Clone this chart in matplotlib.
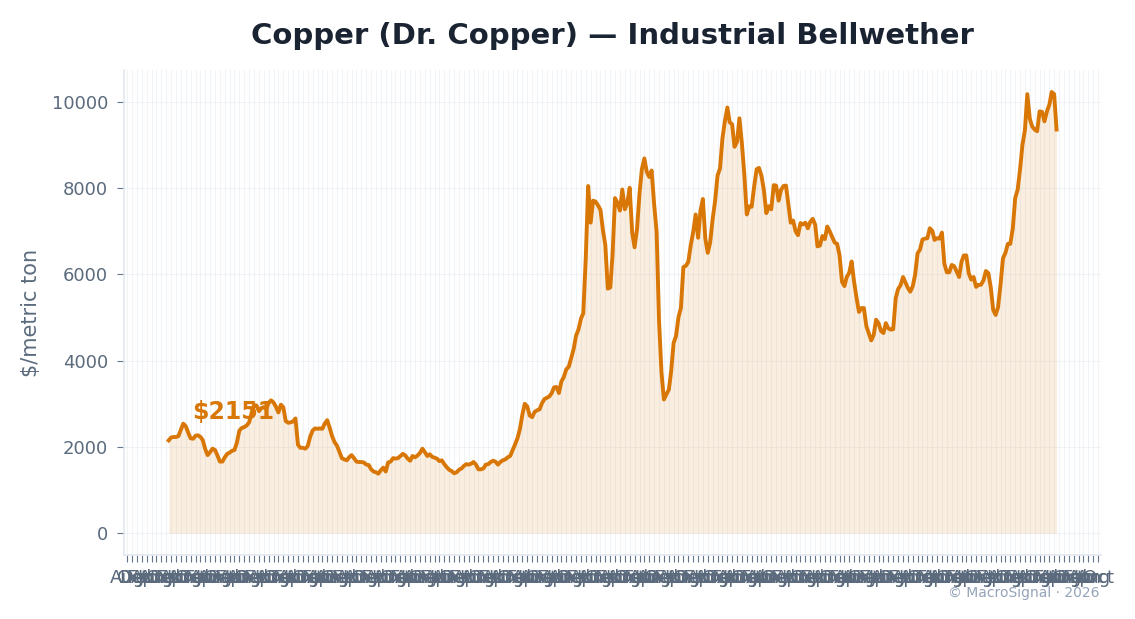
import matplotlib
matplotlib.use("Agg")
import matplotlib.pyplot as plt
import matplotlib.dates as mdates
import numpy as np
import pandas as pd

# Monthly copper price, $/metric ton (Jan 1992 - May 2022)
start_month = "1992-01-01"
p1992 = [2151, 2220, 2230, 2230, 2250, 2400, 2540, 2480, 2330, 2200, 2190, 2260]
p1993 = [2270, 2230, 2160, 1950, 1810, 1880, 1960, 1930, 1800, 1660, 1660, 1760]
p1994 = [1840, 1870, 1910, 1930, 2100, 2380, 2440, 2460, 2500, 2570, 2790, 2970]
p1995 = [2960, 2830, 2900, 2920, 2880, 3020, 3080, 3030, 2930, 2800, 2980, 2920]
p1996 = [2600, 2560, 2570, 2590, 2660, 2050, 1980, 1980, 1960, 2020, 2240, 2380]
p1997 = [2430, 2420, 2430, 2420, 2540, 2620, 2450, 2250, 2110, 2030, 1880, 1740]
p1998 = [1710, 1690, 1760, 1810, 1740, 1660, 1650, 1650, 1640, 1590, 1580, 1480]
p1999 = [1430, 1410, 1380, 1460, 1520, 1430, 1640, 1660, 1740, 1730, 1740, 1790]
p2000 = [1840, 1800, 1730, 1680, 1790, 1760, 1800, 1860, 1960, 1880, 1790, 1830]
p2001 = [1770, 1750, 1730, 1670, 1690, 1600, 1530, 1470, 1440, 1390, 1410, 1470]
p2002 = [1500, 1560, 1600, 1590, 1610, 1650, 1590, 1480, 1480, 1500, 1590, 1600]
p2003 = [1650, 1680, 1660, 1590, 1650, 1690, 1710, 1760, 1790, 1920, 2060, 2200]
p2004 = [2420, 2760, 3000, 2940, 2730, 2690, 2810, 2850, 2870, 3010, 3110, 3140]
p2005 = [3170, 3250, 3380, 3390, 3250, 3520, 3620, 3800, 3860, 4060, 4270, 4580]
p2006 = [4730, 4980, 5100, 6380, 8050, 7200, 7710, 7690, 7600, 7500, 7030, 6680]
p2007 = [5670, 5700, 6450, 7770, 7660, 7480, 7970, 7510, 7650, 8010, 6970, 6630]
p2008 = [7060, 7890, 8440, 8690, 8380, 8260, 8410, 7630, 6990, 4930, 3720, 3100]
p2009 = [3220, 3330, 3750, 4410, 4570, 5010, 5220, 6170, 6200, 6290, 6680, 6980]
p2010 = [7390, 6850, 7460, 7750, 6840, 6500, 6740, 7280, 7710, 8290, 8460, 9150]
p2011 = [9560, 9870, 9530, 9480, 8960, 9070, 9620, 9040, 8300, 7390, 7580, 7570]
p2012 = [8040, 8440, 8470, 8290, 7960, 7420, 7580, 7510, 8070, 8060, 7710, 7960]
p2013 = [8050, 8060, 7650, 7200, 7250, 7000, 6910, 7190, 7160, 7200, 7070, 7220]
p2014 = [7290, 7150, 6650, 6670, 6890, 6820, 7110, 7000, 6870, 6740, 6710, 6450]
p2015 = [5830, 5730, 5940, 6040, 6300, 5830, 5460, 5130, 5220, 5220, 4800, 4640]
p2016 = [4470, 4600, 4950, 4870, 4690, 4640, 4870, 4750, 4720, 4730, 5450, 5660]
p2017 = [5750, 5940, 5820, 5690, 5600, 5720, 5990, 6490, 6580, 6810, 6830, 6840]
p2018 = [7070, 7010, 6800, 6840, 6830, 6970, 6250, 6050, 6050, 6220, 6190, 6070]
p2019 = [5940, 6300, 6440, 6440, 6030, 5880, 5940, 5710, 5760, 5760, 5860, 6080]
p2020 = [6030, 5690, 5180, 5060, 5240, 5760, 6370, 6500, 6710, 6710, 7070, 7770]
p2021 = [7970, 8460, 9000, 9340, 10180, 9610, 9430, 9360, 9320, 9780, 9770, 9550]
p2022 = [9780, 9940, 10230, 10180, 9360]

prices = np.array(p1992 + p1993 + p1994 + p1995 + p1996 + p1997 + p1998 + p1999 +
                  p2000 + p2001 + p2002 + p2003 + p2004 + p2005 + p2006 + p2007 +
                  p2008 + p2009 + p2010 + p2011 + p2012 + p2013 + p2014 + p2015 +
                  p2016 + p2017 + p2018 + p2019 + p2020 + p2021 + p2022, dtype=float)
dates = pd.date_range(start_month, periods=len(prices), freq="MS")

title = "Copper (Dr. Copper) \u2014 Industrial Bellwether"
ylabel = "$/metric ton"
watermark = "\u00a9 MacroSignal \u00b7 2026"

LINE = "#d97706"
TEXT = "#5b6b7d"
TITLE = "#1a2332"

fig = plt.figure(figsize=(11.35, 6.19), dpi=100)
ax = fig.add_axes([0.1095, 0.103, 0.8605, 0.784])

ax.fill_between(dates, prices, 0, color=LINE, alpha=0.12, linewidth=0)
ax.plot(dates, prices, color=LINE, linewidth=2.8, solid_joinstyle="round")

ax.annotate(f"${prices[0]:.0f}", xy=(dates[0], prices[0]), xytext=(17, 12),
            textcoords="offset points", ha="left", va="bottom",
            fontsize=17, fontweight="bold", color=LINE)

ax.xaxis.set_major_locator(mdates.MonthLocator(bymonth=[2, 4, 6, 8, 10, 12]))
ax.xaxis.set_major_formatter(mdates.DateFormatter("%b"))

ax.grid(True, color="#e8edf3", linewidth=0.8, alpha=0.6)
ax.set_axisbelow(True)
for s in ["top", "right"]:
    ax.spines[s].set_visible(False)
for s in ["left", "bottom"]:
    ax.spines[s].set_color("#e2e8f0")
    ax.spines[s].set_linewidth(1.2)

ax.tick_params(axis="both", colors="#64748b", labelcolor=TEXT, labelsize=13, length=5)
ax.tick_params(axis="x", pad=5)
ax.tick_params(axis="y", pad=6.5)
ax.set_ylabel(ylabel, fontsize=15, color=TEXT, labelpad=8)
ax.set_title(title, fontsize=21, fontweight="bold", color=TITLE, pad=19)

fig.text(0.969, 0.031, watermark, ha="right", va="bottom", fontsize=10, color="#94a3b8")

fig.savefig("out.png", dpi=100)
